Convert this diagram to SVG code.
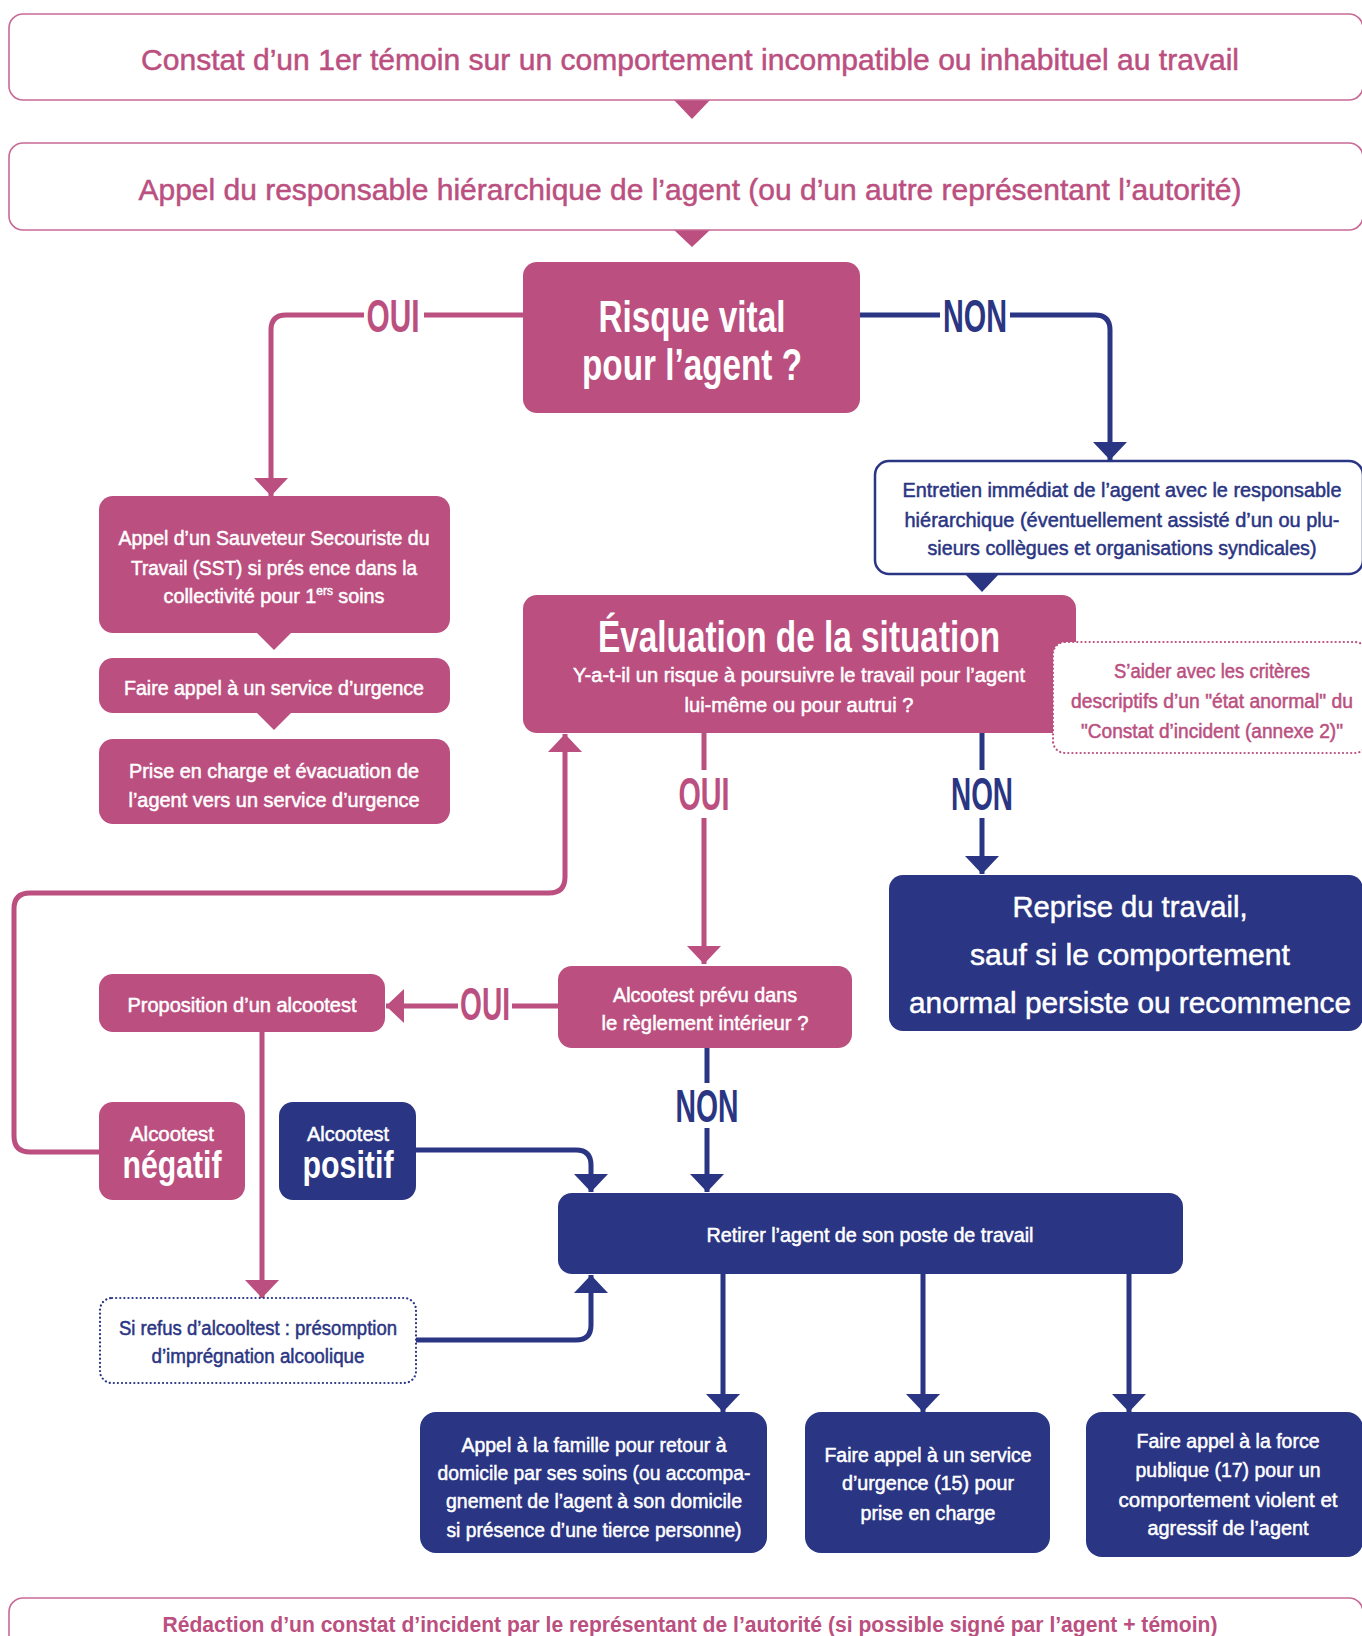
<svg xmlns="http://www.w3.org/2000/svg" width="1362" height="1636" viewBox="0 0 1362 1636">
<defs>
<style>
.t{font-family:"Liberation Sans",Arial,sans-serif;}
.pk{fill:#BB4F80;}
.nv{fill:#2A3583;}
.wh{fill:#FFFFFF;}
.b{font-weight:bold;}
text.m{stroke-width:0.5px;}
text.m.pk{stroke:#BB4F80;}
text.m.nv{stroke:#2A3583;}
text.m.wh{stroke:#FFFFFF;}
.lp{fill:none;stroke:#BB4F80;stroke-width:5;}
.ln{fill:none;stroke:#2A3583;stroke-width:5;}
.ob{fill:#FFFFFF;stroke:#C86A96;stroke-width:1.6;}
</style>
<marker id="ap" viewBox="0 0 18 34" refX="18" refY="17" markerWidth="18" markerHeight="34" orient="auto" markerUnits="userSpaceOnUse"><path d="M0,0 L18,17 L0,34 Z" fill="#BB4F80"/></marker>
<marker id="an" viewBox="0 0 18 34" refX="18" refY="17" markerWidth="18" markerHeight="34" orient="auto" markerUnits="userSpaceOnUse"><path d="M0,0 L18,17 L0,34 Z" fill="#2A3583"/></marker>
</defs>
<rect width="1362" height="1636" fill="#FFFFFF"/>

<g id="connectors">
<path class="lp" d="M523,315 H424"/>
<path class="lp" d="M364,315 H286 Q271,315 271,330 V496" marker-end="url(#ap)"/>
<path class="ln" d="M860,315 H940"/>
<path class="ln" d="M1010,315 H1095 Q1110,315 1110,330 V460" marker-end="url(#an)"/>
<path class="lp" d="M704,733 V770"/>
<path class="lp" d="M704,818 V964" marker-end="url(#ap)"/>
<path class="ln" d="M982,733 V770"/>
<path class="ln" d="M982,818 V874" marker-end="url(#an)"/>
<path class="lp" d="M558,1006 H512"/>
<path class="lp" d="M458,1006 H386" marker-end="url(#ap)"/>
<path class="ln" d="M707,1048 V1083"/>
<path class="ln" d="M707,1128 V1192" marker-end="url(#an)"/>
<path class="lp" d="M262,1032 V1298" marker-end="url(#ap)"/>
<path class="lp" d="M99,1152 H30 Q14,1152 14,1136 V909 Q14,893 30,893 H549 Q565,893 565,877 V734" marker-end="url(#ap)"/>
<path class="ln" d="M416,1150 H576 Q591,1150 591,1165 V1192" marker-end="url(#an)"/>
<path class="ln" d="M416,1340 H576 Q591,1340 591,1325 V1275" marker-end="url(#an)"/>
<path class="ln" d="M723,1274 V1412" marker-end="url(#an)"/>
<path class="ln" d="M923,1274 V1412" marker-end="url(#an)"/>
<path class="ln" d="M1129,1274 V1412" marker-end="url(#an)"/>
<polygon class="pk" points="674,100 710,100 692,119"/>
<polygon class="pk" points="674,230 710,230 692,247"/>
<polygon class="pk" points="257,633 291,633 274,650"/>
<polygon class="pk" points="257,713 291,713 274,730"/>
<polygon class="nv" points="965,574 999,574 982,592"/>
</g>

<g id="n1">
<rect class="ob" x="9" y="14" width="1354" height="86" rx="14"/>
<text class="t pk m" x="690" y="70" font-size="30" text-anchor="middle" textLength="1098" lengthAdjust="spacingAndGlyphs">Constat d’un 1er témoin sur un comportement incompatible ou inhabituel au travail</text>
</g>

<g id="n2">
<rect class="ob" x="9" y="143" width="1354" height="87" rx="14"/>
<text class="t pk m" x="690" y="200" font-size="30" text-anchor="middle" textLength="1103" lengthAdjust="spacingAndGlyphs">Appel du responsable hiérarchique de l’agent (ou d’un autre représentant l’autorité)</text>
</g>

<g id="n3">
<rect class="pk" x="523" y="262" width="337" height="151" rx="14"/>
<text class="t wh b" x="692" y="332" font-size="44" text-anchor="middle" textLength="187" lengthAdjust="spacingAndGlyphs">Risque vital</text>
<text class="t wh b" x="692" y="380" font-size="44" text-anchor="middle" textLength="220" lengthAdjust="spacingAndGlyphs">pour l’agent ?</text>
</g>

<g id="lbl-oui1"><text class="t pk b" x="393" y="332" font-size="46" text-anchor="middle" textLength="53" lengthAdjust="spacingAndGlyphs">OUI</text></g>
<g id="lbl-non1"><text class="t nv b" x="975" y="332" font-size="46" text-anchor="middle" textLength="64" lengthAdjust="spacingAndGlyphs">NON</text></g>

<g id="n4">
<rect x="875" y="461" width="488" height="113" rx="14" fill="#FFFFFF" stroke="#2A3583" stroke-width="2.5"/>
<text class="t nv m" x="1122" y="497" font-size="20" text-anchor="middle" textLength="439" lengthAdjust="spacingAndGlyphs">Entretien immédiat de l’agent avec le responsable</text>
<text class="t nv m" x="1122" y="527" font-size="20" text-anchor="middle" textLength="435" lengthAdjust="spacingAndGlyphs">hiérarchique (éventuellement assisté d’un ou plu-</text>
<text class="t nv m" x="1122" y="555" font-size="20" text-anchor="middle" textLength="389" lengthAdjust="spacingAndGlyphs">sieurs collègues et organisations syndicales)</text>
</g>

<g id="n5">
<rect class="pk" x="99" y="496" width="351" height="137" rx="14"/>
<text class="t wh m" x="274" y="545" font-size="20" text-anchor="middle" textLength="311" lengthAdjust="spacingAndGlyphs">Appel d’un Sauveteur Secouriste du</text>
<text class="t wh m" x="274" y="575" font-size="20" text-anchor="middle" textLength="286" lengthAdjust="spacingAndGlyphs">Travail (SST) si prés ence dans la</text>
<text class="t wh m" x="274" y="603" font-size="20" text-anchor="middle" textLength="221" lengthAdjust="spacingAndGlyphs">collectivité pour 1<tspan font-size="12" dy="-8">ers</tspan><tspan dy="8"> soins</tspan></text>
</g>

<g id="n6">
<rect class="pk" x="99" y="658" width="351" height="55" rx="14"/>
<text class="t wh m" x="274" y="695" font-size="20" text-anchor="middle" textLength="300" lengthAdjust="spacingAndGlyphs">Faire appel à un service d’urgence</text>
</g>

<g id="n7">
<rect class="pk" x="99" y="739" width="351" height="85" rx="14"/>
<text class="t wh m" x="274" y="778" font-size="20" text-anchor="middle" textLength="290" lengthAdjust="spacingAndGlyphs">Prise en charge et évacuation de</text>
<text class="t wh m" x="274" y="807" font-size="20" text-anchor="middle" textLength="291" lengthAdjust="spacingAndGlyphs">l’agent vers un service d’urgence</text>
</g>

<g id="n8">
<rect class="pk" x="523" y="595" width="553" height="138" rx="14"/>
<text class="t wh b" x="799" y="652" font-size="44" text-anchor="middle" textLength="402" lengthAdjust="spacingAndGlyphs">Évaluation de la situation</text>
<text class="t wh m" x="799" y="682" font-size="20" text-anchor="middle" textLength="452" lengthAdjust="spacingAndGlyphs">Y-a-t-il un risque à poursuivre le travail pour l’agent</text>
<text class="t wh m" x="799" y="712" font-size="20" text-anchor="middle" textLength="229" lengthAdjust="spacingAndGlyphs">lui-même ou pour autrui ?</text>
</g>

<g id="n9">
<rect x="1053" y="642" width="314" height="111" rx="12" fill="#FFFFFF" stroke="#BB4F80" stroke-width="2.2" stroke-dasharray="0.1 4" stroke-linecap="round"/>
<text class="t pk m" x="1212" y="678" font-size="20" text-anchor="middle" textLength="196" lengthAdjust="spacingAndGlyphs">S’aider avec les critères</text>
<text class="t pk m" x="1212" y="708" font-size="20" text-anchor="middle" textLength="282" lengthAdjust="spacingAndGlyphs">descriptifs d’un "état anormal" du</text>
<text class="t pk m" x="1212" y="738" font-size="20" text-anchor="middle" textLength="262" lengthAdjust="spacingAndGlyphs">"Constat d’incident (annexe 2)"</text>
</g>

<g id="lbl-oui2"><text class="t pk b" x="704" y="810" font-size="46" text-anchor="middle" textLength="51" lengthAdjust="spacingAndGlyphs">OUI</text></g>
<g id="lbl-non2"><text class="t nv b" x="982" y="810" font-size="46" text-anchor="middle" textLength="62" lengthAdjust="spacingAndGlyphs">NON</text></g>

<g id="n10">
<rect class="nv" x="889" y="875" width="474" height="156" rx="14"/>
<text class="t wh m" x="1130" y="917" font-size="30" text-anchor="middle" textLength="235" lengthAdjust="spacingAndGlyphs">Reprise du travail,</text>
<text class="t wh m" x="1130" y="965" font-size="30" text-anchor="middle" textLength="320" lengthAdjust="spacingAndGlyphs">sauf si le comportement</text>
<text class="t wh m" x="1130" y="1013" font-size="30" text-anchor="middle" textLength="442" lengthAdjust="spacingAndGlyphs">anormal persiste ou recommence</text>
</g>

<g id="n11">
<rect class="pk" x="558" y="966" width="294" height="82" rx="14"/>
<text class="t wh m" x="705" y="1002" font-size="20" text-anchor="middle" textLength="184" lengthAdjust="spacingAndGlyphs">Alcootest prévu dans</text>
<text class="t wh m" x="705" y="1030" font-size="20" text-anchor="middle" textLength="207" lengthAdjust="spacingAndGlyphs">le règlement intérieur ?</text>
</g>

<g id="lbl-oui3"><text class="t pk b" x="485" y="1020" font-size="46" text-anchor="middle" textLength="50" lengthAdjust="spacingAndGlyphs">OUI</text></g>
<g id="lbl-non3"><text class="t nv b" x="707" y="1122" font-size="46" text-anchor="middle" textLength="63" lengthAdjust="spacingAndGlyphs">NON</text></g>

<g id="n12">
<rect class="pk" x="99" y="974" width="286" height="58" rx="14"/>
<text class="t wh m" x="242" y="1012" font-size="20" text-anchor="middle" textLength="229" lengthAdjust="spacingAndGlyphs">Proposition d’un alcootest</text>
</g>

<g id="n13">
<rect class="pk" x="99" y="1102" width="146" height="98" rx="14"/>
<text class="t wh m" x="172" y="1141" font-size="20" text-anchor="middle" textLength="84" lengthAdjust="spacingAndGlyphs">Alcootest</text>
<text class="t wh b" x="172" y="1178" font-size="39" text-anchor="middle" textLength="99" lengthAdjust="spacingAndGlyphs">négatif</text>
</g>

<g id="n14">
<rect class="nv" x="279" y="1102" width="137" height="98" rx="14"/>
<text class="t wh m" x="348" y="1141" font-size="20" text-anchor="middle" textLength="82" lengthAdjust="spacingAndGlyphs">Alcootest</text>
<text class="t wh b" x="348" y="1178" font-size="39" text-anchor="middle" textLength="91" lengthAdjust="spacingAndGlyphs">positif</text>
</g>

<g id="n15">
<rect x="100" y="1298" width="316" height="85" rx="12" fill="#FFFFFF" stroke="#2A3583" stroke-width="2.2" stroke-dasharray="0.1 4" stroke-linecap="round"/>
<text class="t nv m" x="258" y="1335" font-size="20" text-anchor="middle" textLength="278" lengthAdjust="spacingAndGlyphs">Si refus d’alcooltest : présomption</text>
<text class="t nv m" x="258" y="1363" font-size="20" text-anchor="middle" textLength="213" lengthAdjust="spacingAndGlyphs">d’imprégnation alcoolique</text>
</g>

<g id="n16">
<rect class="nv" x="558" y="1193" width="625" height="81" rx="14"/>
<text class="t wh m" x="870" y="1242" font-size="20" text-anchor="middle" textLength="327" lengthAdjust="spacingAndGlyphs">Retirer l’agent de son poste de travail</text>
</g>

<g id="n17">
<rect class="nv" x="420" y="1412" width="347" height="141" rx="16"/>
<text class="t wh m" x="594" y="1452" font-size="20" text-anchor="middle" textLength="265" lengthAdjust="spacingAndGlyphs">Appel à la famille pour retour à</text>
<text class="t wh m" x="594" y="1480" font-size="20" text-anchor="middle" textLength="313" lengthAdjust="spacingAndGlyphs">domicile par ses soins (ou accompa-</text>
<text class="t wh m" x="594" y="1508" font-size="20" text-anchor="middle" textLength="296" lengthAdjust="spacingAndGlyphs">gnement de l’agent à son domicile</text>
<text class="t wh m" x="594" y="1537" font-size="20" text-anchor="middle" textLength="295" lengthAdjust="spacingAndGlyphs">si présence d’une tierce personne)</text>
</g>

<g id="n18">
<rect class="nv" x="805" y="1412" width="245" height="141" rx="16"/>
<text class="t wh m" x="928" y="1462" font-size="20" text-anchor="middle" textLength="207" lengthAdjust="spacingAndGlyphs">Faire appel à un service</text>
<text class="t wh m" x="928" y="1490" font-size="20" text-anchor="middle" textLength="172" lengthAdjust="spacingAndGlyphs">d’urgence (15) pour</text>
<text class="t wh m" x="928" y="1520" font-size="20" text-anchor="middle" textLength="135" lengthAdjust="spacingAndGlyphs">prise en charge</text>
</g>

<g id="n19">
<rect class="nv" x="1086" y="1412" width="277" height="145" rx="16"/>
<text class="t wh m" x="1228" y="1448" font-size="20" text-anchor="middle" textLength="183" lengthAdjust="spacingAndGlyphs">Faire appel à la force</text>
<text class="t wh m" x="1228" y="1477" font-size="20" text-anchor="middle" textLength="185" lengthAdjust="spacingAndGlyphs">publique (17) pour un</text>
<text class="t wh m" x="1228" y="1507" font-size="20" text-anchor="middle" textLength="219" lengthAdjust="spacingAndGlyphs">comportement violent et</text>
<text class="t wh m" x="1228" y="1535" font-size="20" text-anchor="middle" textLength="161" lengthAdjust="spacingAndGlyphs">agressif de l’agent</text>
</g>

<g id="n20">
<rect class="ob" x="9" y="1598" width="1354" height="80" rx="14"/>
<text class="t pk b" x="690" y="1632" font-size="22" text-anchor="middle" textLength="1055" lengthAdjust="spacingAndGlyphs">Rédaction d’un constat d’incident par le représentant de l’autorité (si possible signé par l’agent + témoin)</text>
</g>
</svg>
